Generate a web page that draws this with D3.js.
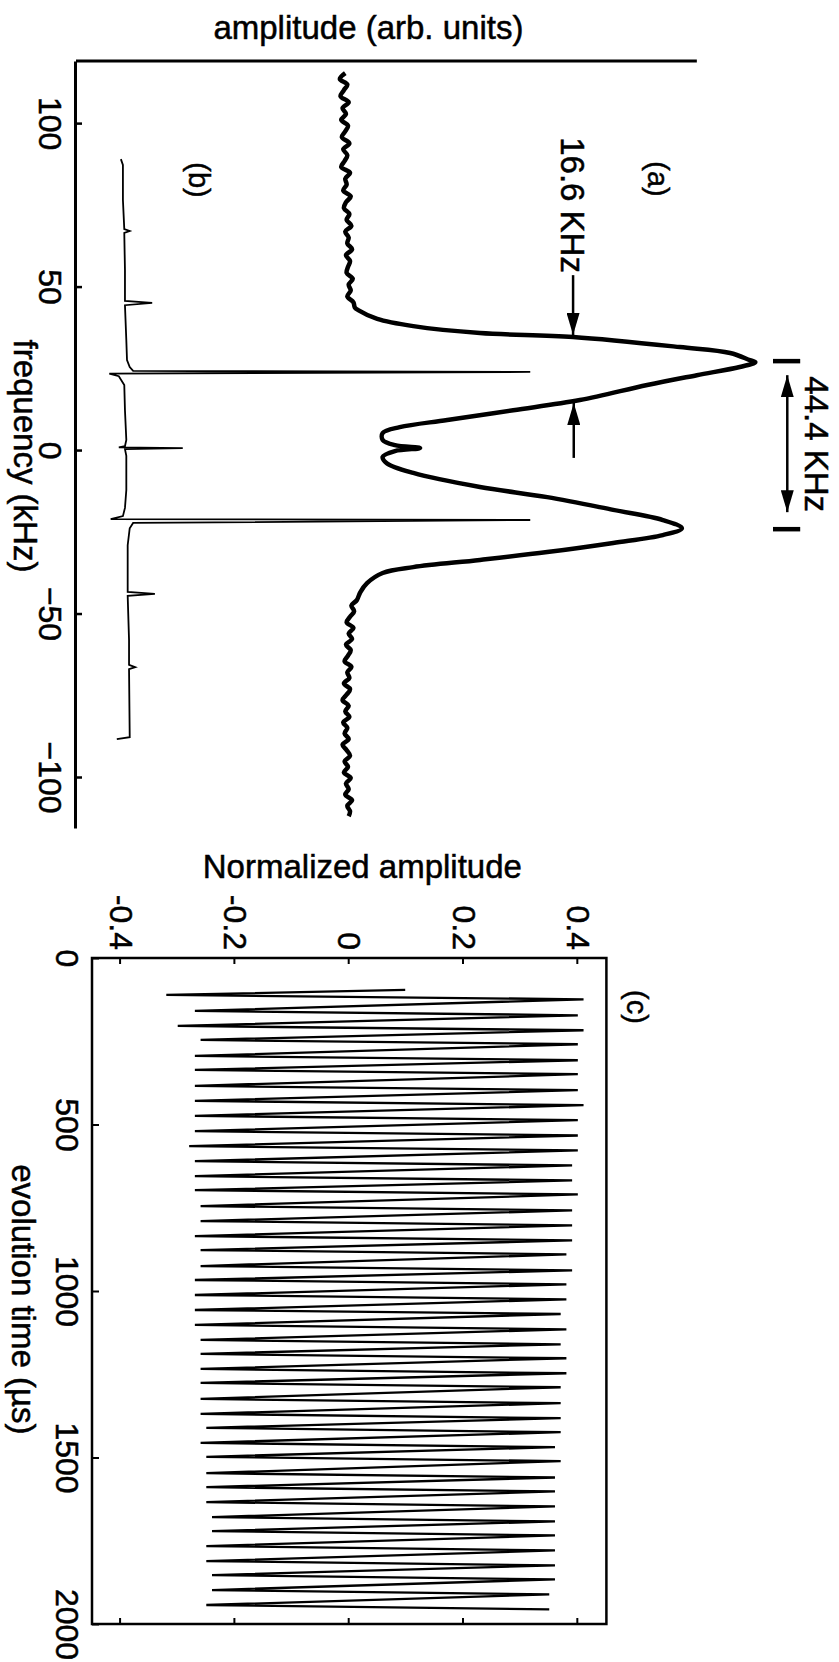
<!DOCTYPE html>
<html>
<head>
<meta charset="utf-8">
<script src="https://cdn.jsdelivr.net/npm/d3@7"></script>
<style>
  body { margin: 0; background: #fff; }
  svg { display: block; font-family: "Liberation Sans", Arial, Helvetica, sans-serif; }
  svg text { fill: #000; stroke: #000; stroke-width: 0.5px; }
  .axis text { font-size: 32px; }
  .axis line, .axis path { stroke: #000; }
</style>
</head>
<body>
<div id="chart"></div>
<script>
// spectrum panel: frequency (kHz) and amplitude (arb. units)
const freqTicks = [100, 50, 0, -50, -100];

// (a) measured line shape
const aFreq = [115.3, 113.5, 111.8, 110.1, 108.2, 106.4, 104.6, 102.8, 101.0, 99.2, 97.5, 95.7, 93.8, 92.0, 90.2,
  88.4, 86.6, 84.8, 83.0, 81.2, 79.4, 77.6, 75.8, 74.0, 72.2, 70.4, 68.6, 66.8, 65.0, 63.2, 61.4, 59.6, 57.8,
  56.0, 54.2, 52.4, 50.6, 48.8, 47.0, 45.2, 43.6, 42.8, 40.1, 37.9, 35.8, 34.6, 31.5, 29.7, 27.5, 26.9, 25.4,
  22.9, 19.9, 15.3, 12.2, 9.2, 7.0, 5.2, 3.1, 1.5, 0.6, -0.3, -2.1, -4.0, -7.0, -11.3, -14.4, -18.3, -21.4,
  -23.9, -26.0, -28.4, -31.2, -33.6, -35.8, -37.6, -40.7, -43.5, -45.9, -47.6, -49.3, -51.0, -52.7, -54.4,
  -56.1, -57.8, -59.5, -61.2, -62.9, -64.6, -66.3, -68.0, -69.7, -71.4, -73.1, -74.8, -76.5, -78.2, -79.9,
  -81.6, -83.3, -85.0, -86.7, -88.4, -90.1, -91.8, -93.5, -95.2, -96.9, -98.6, -100.3, -102.0, -103.7,
  -105.4, -107.1, -108.8, -110.5, -112.0];
const aAmp = [0.396, 0.388, 0.399, 0.394, 0.389, 0.401, 0.392, 0.397, 0.390, 0.400,
  0.396, 0.391, 0.402, 0.393, 0.399, 0.395, 0.390, 0.403, 0.396, 0.398,
  0.393, 0.404, 0.397, 0.394, 0.402, 0.398, 0.405, 0.396, 0.401, 0.399,
  0.406, 0.397, 0.403, 0.400, 0.398, 0.407, 0.401, 0.404, 0.399, 0.408,
  0.410, 0.415, 0.443, 0.496, 0.594, 0.731, 0.888, 0.962, 0.991, 0.999, 0.976,
  0.913, 0.840, 0.741, 0.643, 0.546, 0.476, 0.451, 0.451, 0.469, 0.506, 0.469, 0.451, 0.457, 0.496, 0.594, 0.693, 0.790, 0.863,
  0.891, 0.863, 0.790, 0.693, 0.594, 0.496, 0.451, 0.428, 0.418,
  0.413, 0.405, 0.409, 0.403, 0.398, 0.408, 0.401, 0.406, 0.397, 0.404,
  0.400, 0.395, 0.405, 0.399, 0.402, 0.394, 0.403, 0.398, 0.392, 0.401,
  0.396, 0.402, 0.393, 0.399, 0.395, 0.401, 0.392, 0.398, 0.403, 0.395,
  0.400, 0.394, 0.404, 0.397, 0.401, 0.396, 0.406, 0.399, 0.403, 0.401];

// (b) calculated stick spectrum
const bFreq = [89.0, 87.2, 76.5, 67.6, 67.0, 66.4, 55.0, 45.6, 45.0, 44.3, 33.6, 27.5, 25.4, 24.2, 23.9, 23.4, 22.6,
  19.9, 12.2, 3.1, 1.2, 0.8, 0.6, 0.3, -1.8, -12.2, -17.7, -20.2, -21.1, -21.4, -22.3, -23.9, -29.1, -43.4, -44.0,
  -44.6, -58.1, -65.7, -66.4, -67.0, -87.8, -88.4];
const bAmp = [0.066, 0.069, 0.069, 0.071, 0.079, 0.071, 0.072, 0.072, 0.112, 0.072, 0.074, 0.075, 0.079, 0.084, 0.668, 0.049, 0.063,
  0.071, 0.072, 0.074, 0.072, 0.063, 0.157, 0.072, 0.074, 0.074, 0.072, 0.069, 0.051, 0.668, 0.084, 0.079, 0.076, 0.076, 0.116,
  0.076, 0.078, 0.078, 0.087, 0.078, 0.079, 0.060];

// (c) time domain signal, evolution time (µs) vs normalized amplitude
const timeTicks = [0, 500, 1000, 1500, 2000];
const normTicks = [-0.4, -0.2, 0, 0.2, 0.4];
const cTime = [96, 111, 124, 159, 172, 204, 217, 246, 259, 294, 307, 336, 349, 384, 397, 429, 442, 474, 487, 520, 533,
  565, 578, 610, 623, 655, 668, 697, 710, 745, 758, 790, 803, 835, 848, 877, 890, 925, 938, 967, 980, 1012, 1025,
  1057, 1069, 1102, 1115, 1147, 1160, 1189, 1202, 1234, 1247, 1276, 1289, 1324, 1337, 1369, 1382, 1411, 1424,
  1456, 1469, 1498, 1511, 1547, 1560, 1589, 1602, 1634, 1647, 1679, 1692, 1721, 1734, 1766, 1779, 1811, 1824,
  1853, 1866, 1898, 1911, 1943, 1956];
const cAmp = [0.098, -0.32, 0.41, -0.27, 0.40, -0.30, 0.41, -0.26, 0.40, -0.27, 0.40, -0.27, 0.40, -0.27, 0.40, -0.27, 0.41,
  -0.27, 0.40, -0.27, 0.40, -0.28, 0.40, -0.27, 0.39, -0.27, 0.39, -0.27, 0.40, -0.26, 0.39, -0.26, 0.39, -0.27, 0.39,
  -0.26, 0.38, -0.26, 0.39, -0.27, 0.38, -0.27, 0.38, -0.27, 0.37, -0.27, 0.38, -0.26, 0.37, -0.26, 0.38, -0.26, 0.38,
  -0.26, 0.37, -0.26, 0.37, -0.26, 0.37, -0.25, 0.37, -0.26, 0.36, -0.25, 0.37, -0.25, 0.36, -0.25, 0.36, -0.25, 0.36,
  -0.24, 0.36, -0.24, 0.36, -0.25, 0.36, -0.25, 0.36, -0.24, 0.36, -0.24, 0.35, -0.25, 0.35];

// annotations (kHz)
const fwhmText = "16.6 KHz";
const splitText = "44.4 KHz";
const fwhmEdges = [35.2, 14.4];
const splitPeaks = [27.2, -24.2];

const W = 839, H = 1662;

const svg = d3.select("#chart").append("svg")
  .attr("width", W)
  .attr("height", H);

// the figure was printed turned a quarter turn clockwise: draw it upright and rotate
const g = svg.append("g").attr("transform", `translate(${W},0) rotate(90)`);

const defs = svg.append("defs");
defs.append("marker")
  .attr("id", "head")
  .attr("viewBox", "0 0 22 13")
  .attr("refX", 22).attr("refY", 6.5)
  .attr("markerWidth", 22).attr("markerHeight", 13)
  .attr("markerUnits", "userSpaceOnUse")
  .attr("orient", "auto-start-reverse")
  .append("path").attr("d", "M0,0L22,6.5L0,13Z").attr("fill", "#000");

// ---------- spectrum panel ----------
const fScale = d3.scaleLinear().domain([119, -115.6]).range([61, 828]);
const aScale = d3.scaleLinear().domain([0, 1]).range([763, 83]);

g.append("g")
  .attr("class", "axis")
  .attr("transform", `translate(0,${aScale(0)})`)
  .call(d3.axisBottom(fScale).tickValues(freqTicks).tickSizeInner(-6).tickSizeOuter(0).tickPadding(14))
  .call(a => a.select(".domain").attr("stroke-width", 3))
  .call(a => a.selectAll(".tick line").attr("stroke-width", 2.5));

g.append("line")
  .attr("x1", fScale.range()[0]).attr("x2", fScale.range()[0])
  .attr("y1", aScale(0)).attr("y2", aScale(0.913))
  .attr("stroke", "#000").attr("stroke-width", 3);

g.append("text")
  .attr("transform", `translate(39,${aScale(0.43)}) rotate(-90)`)
  .attr("text-anchor", "middle")
  .attr("font-size", 33)
  .text("amplitude (arb. units)");

g.append("text")
  .attr("x", fScale(-1.8)).attr("y", 825)
  .attr("text-anchor", "middle")
  .attr("font-size", 33)
  .text("frequency (kHz)");

g.append("path")
  .attr("d", d3.line().curve(d3.curveCatmullRom.alpha(0.5))
    .x(i => fScale(aFreq[i])).y(i => aScale(aAmp[i]))(d3.range(aFreq.length)))
  .attr("fill", "none").attr("stroke", "#000").attr("stroke-width", 4.5)
  .attr("stroke-linejoin", "round");

g.append("path")
  .attr("d", d3.line().x(i => fScale(bFreq[i])).y(i => aScale(bAmp[i]))(d3.range(bFreq.length)))
  .attr("fill", "none").attr("stroke", "#000").attr("stroke-width", 1.8);

g.append("text")
  .attr("x", fScale(82.9)).attr("y", aScale(0.856))
  .attr("text-anchor", "middle").attr("dominant-baseline", "central")
  .attr("font-size", 29).text("(a)");

g.append("text")
  .attr("x", fScale(82.6)).attr("y", aScale(0.181))
  .attr("text-anchor", "middle").attr("dominant-baseline", "central")
  .attr("font-size", 29).text("(b)");

// line width markers
g.append("text")
  .attr("x", fScale(95.7)).attr("y", aScale(0.713))
  .attr("font-size", 33).text(fwhmText);
g.append("line")
  .attr("x1", fScale(53.5)).attr("x2", fScale(fwhmEdges[0]))
  .attr("y1", aScale(0.731)).attr("y2", aScale(0.731))
  .attr("stroke", "#000").attr("stroke-width", 2.5)
  .attr("marker-end", "url(#head)");
g.append("line")
  .attr("x1", fScale(-2.4)).attr("x2", fScale(fwhmEdges[1]))
  .attr("y1", aScale(0.732)).attr("y2", aScale(0.732))
  .attr("stroke", "#000").attr("stroke-width", 2.5)
  .attr("marker-end", "url(#head)");

// splitting marker
g.selectAll(".bar")
  .data(splitPeaks)
  .enter().append("line")
  .attr("class", "bar")
  .attr("x1", d => fScale(d)).attr("x2", d => fScale(d))
  .attr("y1", aScale(1.025)).attr("y2", aScale(1.065))
  .attr("stroke", "#000").attr("stroke-width", 4.5);
g.append("line")
  .attr("x1", fScale(22.9)).attr("x2", fScale(-19.0))
  .attr("y1", aScale(1.046)).attr("y2", aScale(1.046))
  .attr("stroke", "#000").attr("stroke-width", 2.5)
  .attr("marker-start", "url(#head)")
  .attr("marker-end", "url(#head)");
g.append("text")
  .attr("x", fScale(1.8)).attr("y", aScale(1.072))
  .attr("text-anchor", "middle")
  .attr("font-size", 33).text(splitText);

// ---------- time domain panel ----------
const tScale = d3.scaleLinear().domain([0, 2000]).range([958, 1624]);
const nScale = d3.scaleLinear().domain([-0.45, 0.45]).range([747, 232.6]);

g.append("rect")
  .attr("x", tScale(0)).attr("y", nScale(0.45))
  .attr("width", tScale(2000) - tScale(0))
  .attr("height", nScale(-0.45) - nScale(0.45))
  .attr("fill", "none").attr("stroke", "#000").attr("stroke-width", 2.5);

g.append("g")
  .attr("class", "axis")
  .attr("transform", `translate(0,${nScale(-0.45)})`)
  .call(d3.axisBottom(tScale).tickValues(timeTicks).tickFormat(d3.format("d"))
    .tickSizeInner(-7).tickSizeOuter(0).tickPadding(13))
  .call(a => a.select(".domain").remove())
  .call(a => a.selectAll(".tick line").attr("stroke-width", 2));

g.append("g")
  .attr("class", "axis")
  .attr("transform", `translate(${tScale(0)},0)`)
  .call(d3.axisLeft(nScale).tickValues(normTicks).tickSizeInner(-6).tickSizeOuter(0).tickPadding(8)
    .tickFormat(d => d === 0 ? "0" : d.toFixed(1)))
  .call(a => a.select(".domain").remove())
  .call(a => a.selectAll(".tick line").attr("stroke-width", 2));

g.append("g")
  .attr("class", "axis")
  .attr("transform", `translate(${tScale(2000)},0)`)
  .call(d3.axisRight(nScale).tickValues(normTicks).tickSizeInner(-6).tickSizeOuter(0).tickFormat(""))
  .call(a => a.select(".domain").remove())
  .call(a => a.selectAll(".tick line").attr("stroke-width", 2));

g.append("text")
  .attr("transform", `translate(878,${nScale(0.023)}) rotate(-90)`)
  .attr("text-anchor", "middle")
  .attr("font-size", 33)
  .text("Normalized amplitude");

g.append("text")
  .attr("x", tScale(1025)).attr("y", 827)
  .attr("text-anchor", "middle")
  .attr("font-size", 33)
  .text("evolution time (\u00b5s)");

g.append("path")
  .attr("d", d3.line().x(i => tScale(cTime[i])).y(i => nScale(cAmp[i]))(d3.range(cTime.length)))
  .attr("fill", "none").attr("stroke", "#000").attr("stroke-width", 2.3);

g.append("text")
  .attr("x", tScale(147)).attr("y", nScale(0.503))
  .attr("text-anchor", "middle").attr("dominant-baseline", "central")
  .attr("font-size", 29).text("(c)");
</script>
</body>
</html>
